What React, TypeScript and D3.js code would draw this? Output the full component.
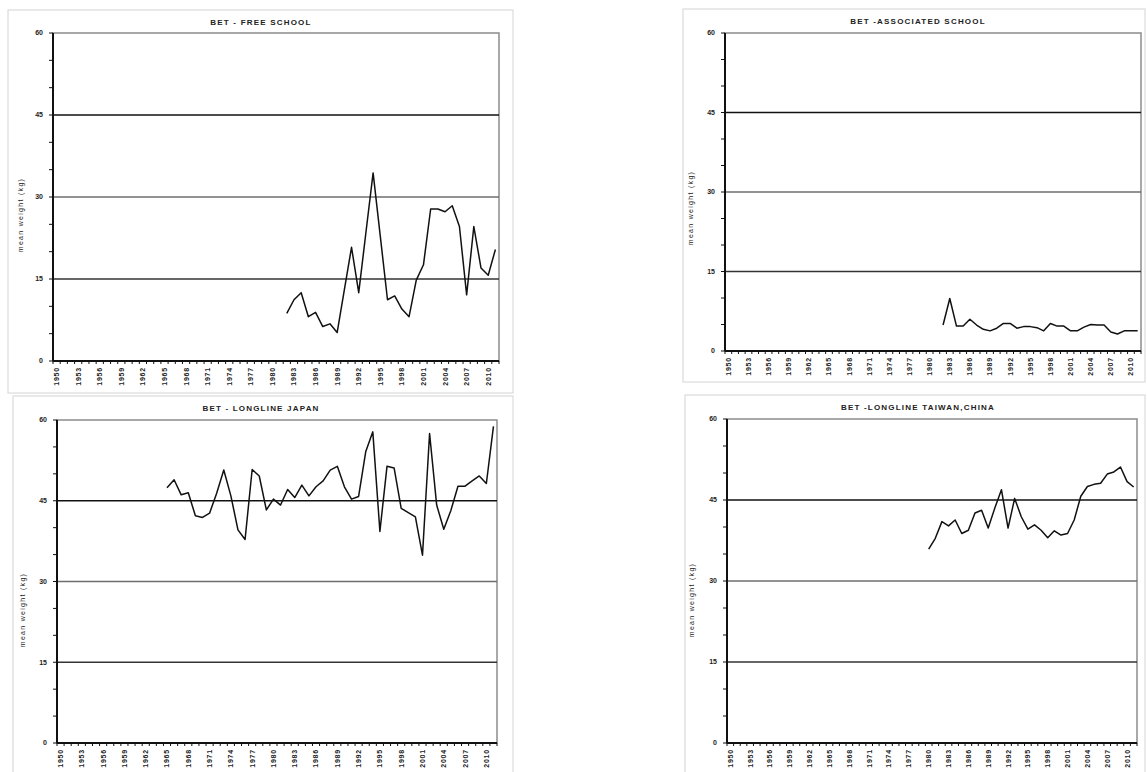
//@ts-nocheck
import React, {useEffect, useRef} from 'react';
import * as d3 from 'd3';

// categories on the x axis (one per year) and the labelled ones
const years = d3.range(1950, 2012);
const yearLabels = [1950, 1953, 1956, 1959, 1962, 1965, 1968, 1971, 1974, 1977, 1980,
    1983, 1986, 1989, 1992, 1995, 1998, 2001, 2004, 2007, 2010];
const yTicks = [0, 15, 30, 45, 60];
const yMinor = [5, 10, 20, 25, 35, 40, 50, 55];
const gridValues = [15, 30, 45];

// mean weight (kg) per year
const freeSchoolStart = 1982;
const freeSchool = [8.7, 11.2, 12.5, 8.1, 8.9, 6.3, 6.8, 5.2, 13, 20.8, 12.5, 23.5, 34.4, 22.8, 11.2,
    11.9, 9.5, 8.1, 14.8, 17.6, 27.8, 27.8, 27.3, 28.4, 24.6, 12.1, 24.6, 17, 15.7, 20.4];

const associatedStart = 1982;
const associated = [4.9, 9.9, 4.7, 4.7, 6, 4.9, 4.1, 3.8, 4.3, 5.2, 5.2, 4.3, 4.6, 4.6, 4.4,
    3.8, 5.2, 4.7, 4.7, 3.8, 3.8, 4.5, 5.0, 4.9, 4.9, 3.6, 3.2, 3.8, 3.8, 3.8];

const japanStart = 1965;
const japan = [47.4, 48.9, 46.1, 46.5, 42.2, 41.9, 42.7, 46.4, 50.7, 45.9, 39.6, 37.8, 50.8, 49.6,
    43.3, 45.3, 44.2, 47.1, 45.6, 47.9, 45.9, 47.6, 48.7, 50.7, 51.4, 47.6, 45.3, 45.8, 54.1, 57.8,
    39.3, 51.4, 51.1, 43.6, 42.8, 42.0, 34.9, 57.5, 44.2, 39.7, 43.2, 47.7, 47.7, 48.7, 49.6, 48.2, 58.8];

const taiwanStart = 1980;
const taiwan = [35.9, 37.9, 41, 40.2, 41.3, 38.8, 39.4, 42.6, 43.1, 39.8, 43.5, 46.9, 39.8, 45.3,
    41.9, 39.6, 40.4, 39.4, 38, 39.3, 38.5, 38.8, 41.3, 45.7, 47.5, 47.9, 48.1, 49.8, 50.2, 51.1, 48.4, 47.4];

const panels = [
    {title: 'BET - FREE SCHOOL', start: freeSchoolStart, values: freeSchool,
        box: [8, 10, 505, 383], plot: [53, 499, 33, 361], titleX: 261, titleY: 22, labX: 21, labY: 215},
    {title: 'BET -ASSOCIATED SCHOOL', start: associatedStart, values: associated,
        box: [683, 9, 462, 373], plot: [725, 1141, 33, 351], titleX: 918, titleY: 21, labX: 691, labY: 208},
    {title: 'BET - LONGLINE JAPAN', start: japanStart, values: japan,
        box: [13, 396, 500, 380], plot: [57, 497, 420, 743], titleX: 261, titleY: 408, labX: 23, labY: 610},
    {title: 'BET -LONGLINE TAIWAN,CHINA', start: taiwanStart, values: taiwan,
        box: [685, 395, 460, 380], plot: [727, 1137, 419, 743], titleX: 918, titleY: 407, labX: 692, labY: 600},
];

const FONT = '"Liberation Sans", Arial, sans-serif';

const App: React.FC = () => {
    const svgRef = useRef<SVGSVGElement | null>(null);

    useEffect(() => {
        const svg = d3.select(svgRef.current);
        svg.selectAll('*').remove();

        svg.append('rect')
            .attr('width', 1147).attr('height', 772)
            .attr('fill', '#ffffff');

        panels.forEach(function (p) {
            const [l, r, t, b] = p.plot;
            const g = svg.append('g');

            g.append('rect')
                .attr('x', p.box[0]).attr('y', p.box[1])
                .attr('width', p.box[2]).attr('height', p.box[3])
                .attr('fill', '#ffffff')
                .attr('stroke', '#d4d4d4')
                .attr('stroke-width', 1);

            const x = d3.scaleBand()
                .domain(years)
                .range([l, r])
                .padding(0);
            const y = d3.scaleLinear()
                .domain([0, 60])
                .range([b, t]);

            // plot frame
            g.append('rect')
                .attr('x', l).attr('y', t)
                .attr('width', r - l).attr('height', b - t)
                .attr('fill', 'none')
                .attr('stroke', '#8c8c8c')
                .attr('stroke-width', 1.5);

            g.selectAll('line.grid')
                .data(gridValues)
                .enter().append('line')
                .attr('class', 'grid')
                .attr('x1', l).attr('x2', r)
                .attr('y1', function (d) { return y(d); })
                .attr('y2', function (d) { return y(d); })
                .attr('stroke', function (d) { return d === 30 ? '#6e6e6e' : (d === 45 ? '#111' : '#333'); })
                .attr('stroke-width', 1.5);

            // axes
            g.append('line')
                .attr('x1', l).attr('x2', l).attr('y1', t).attr('y2', b)
                .attr('stroke', '#111').attr('stroke-width', 2);
            g.append('line')
                .attr('x1', l).attr('x2', r).attr('y1', b).attr('y2', b)
                .attr('stroke', '#111').attr('stroke-width', 2);

            g.selectAll('line.ytick')
                .data(yTicks.concat(yMinor))
                .enter().append('line')
                .attr('class', 'ytick')
                .attr('x1', l - 4).attr('x2', l)
                .attr('y1', function (d) { return y(d); })
                .attr('y2', function (d) { return y(d); })
                .attr('stroke', '#111').attr('stroke-width', 1);

            g.selectAll('text.ylab')
                .data(yTicks)
                .enter().append('text')
                .attr('class', 'ylab')
                .attr('x', l - 10)
                .attr('y', function (d) { return y(d); })
                .attr('dy', '0.35em')
                .attr('text-anchor', 'end')
                .attr('font-family', FONT)
                .attr('font-size', '7px')
                .attr('font-weight', 'bold')
                .attr('fill', '#222')
                .text(function (d) { return d; });

            g.selectAll('line.xtick')
                .data(years.concat([2012]))
                .enter().append('line')
                .attr('class', 'xtick')
                .attr('x1', function (d) { return d === 2012 ? r : x(d); })
                .attr('x2', function (d) { return d === 2012 ? r : x(d); })
                .attr('y1', b).attr('y2', b + 3)
                .attr('stroke', '#111').attr('stroke-width', 1);

            g.selectAll('text.xlab')
                .data(yearLabels)
                .enter().append('text')
                .attr('class', 'xlab')
                .attr('transform', function (d) {
                    return 'translate(' + (x(d) + x.bandwidth() / 2) + ',' + (b + 6) + ')rotate(-90)';
                })
                .attr('dy', '0.35em')
                .attr('text-anchor', 'end')
                .attr('font-family', FONT)
                .attr('font-size', '7px')
                .attr('font-weight', 'bold')
                .attr('letter-spacing', '0.8px')
                .attr('fill', '#222')
                .text(function (d) { return d; });

            g.append('text')
                .attr('x', p.titleX).attr('y', p.titleY)
                .attr('dy', '0.35em')
                .attr('text-anchor', 'middle')
                .attr('font-family', FONT)
                .attr('font-size', '8px')
                .attr('font-weight', 'bold')
                .attr('letter-spacing', '1.2px')
                .attr('fill', '#222')
                .text(p.title);

            g.append('text')
                .attr('transform', 'translate(' + p.labX + ',' + p.labY + ')rotate(-90)')
                .attr('dy', '0.35em')
                .attr('text-anchor', 'middle')
                .attr('font-family', FONT)
                .attr('font-size', '7px')
                .attr('letter-spacing', '1.3px')
                .attr('fill', '#222')
                .text('mean weight (kg)');

            const pts = p.values.map(function (v, i) { return {year: p.start + i, v: v}; });
            const line = d3.line()
                .x(function (d) { return x(d.year) + x.bandwidth() / 2; })
                .y(function (d) { return y(d.v); });

            g.append('path')
                .datum(pts)
                .attr('d', line)
                .attr('fill', 'none')
                .attr('stroke', '#111')
                .attr('stroke-width', 1.5)
                .attr('stroke-linejoin', 'round');
        });
    }, []);

    return (
        <svg ref={svgRef} width={1147} height={772}
             style={{position: 'absolute', left: 0, top: 0, display: 'block'}}/>
    );
};

export default App;
